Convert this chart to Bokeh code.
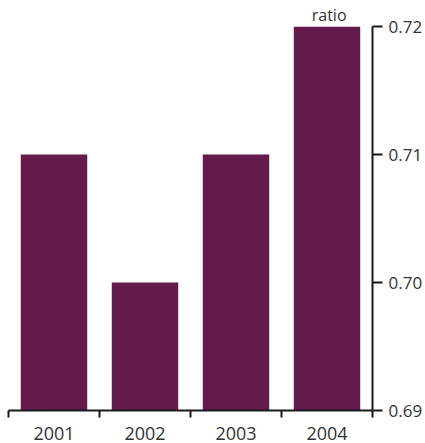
from bokeh.plotting import figure
from bokeh.models import Range1d, FixedTicker, Title, ColumnDataSource
from bokeh.embed import file_html
from bokeh.resources import INLINE

years = ["2001", "2002", "2003", "2004"]
ratio = [0.71, 0.70, 0.71, 0.72]
y_ticks = [0.69, 0.70, 0.71, 0.72]
unit_label = "ratio"

pos = [i + 0.5 for i in range(len(years))]
src = ColumnDataSource(dict(x=pos, top=ratio))

FONT = "Open Sans"
p = figure(width=425, height=443, output_backend="svg", toolbar_location=None,
           x_range=Range1d(0, len(years)), y_range=Range1d(0.69, 0.72),
           y_axis_location="right", min_border_left=8, min_border_top=26,
           min_border_right=51, min_border_bottom=33)
p.outline_line_color = None
p.grid.visible = False

p.vbar(x="x", top="top", bottom=0.69, width=0.73, source=src,
       fill_color="#651A4C", line_color=None)

xa = p.xaxis[0]
xa.ticker = FixedTicker(ticks=pos, minor_ticks=list(range(len(years) + 1)))
xa.major_label_overrides = {x: y for x, y in zip(pos, years)}
xa.major_tick_out = 0
xa.major_tick_in = 0
xa.minor_tick_out = 7
xa.minor_tick_in = 0
xa.minor_tick_line_color = "#1a1a1a"
xa.minor_tick_line_width = 2
xa.axis_line_color = "#1a1a1a"
xa.axis_line_width = 2
xa.major_label_text_font = FONT
xa.major_label_text_font_size = "18px"
xa.major_label_text_color = "#333333"
xa.major_label_standoff = 9

ya = p.yaxis[0]
ya.ticker = FixedTicker(ticks=y_ticks)
ya.major_label_overrides = {v: f"{v:.2f}" for v in y_ticks}
ya.major_tick_out = 10
ya.major_tick_in = 0
ya.minor_tick_out = 0
ya.minor_tick_in = 0
ya.major_tick_line_color = "#1a1a1a"
ya.major_tick_line_width = 2
ya.axis_line_color = "#1a1a1a"
ya.axis_line_width = 2
ya.major_label_text_font = FONT
ya.major_label_text_font_size = "17px"
ya.major_label_text_color = "#333333"
ya.major_label_standoff = 6

p.title = Title(text=unit_label, align="right", offset=26, standoff=1,
                text_font=FONT, text_font_size="16px", text_font_style="normal",
                text_color="#333333")

open("out.html", "w").write(file_html(p, INLINE))
